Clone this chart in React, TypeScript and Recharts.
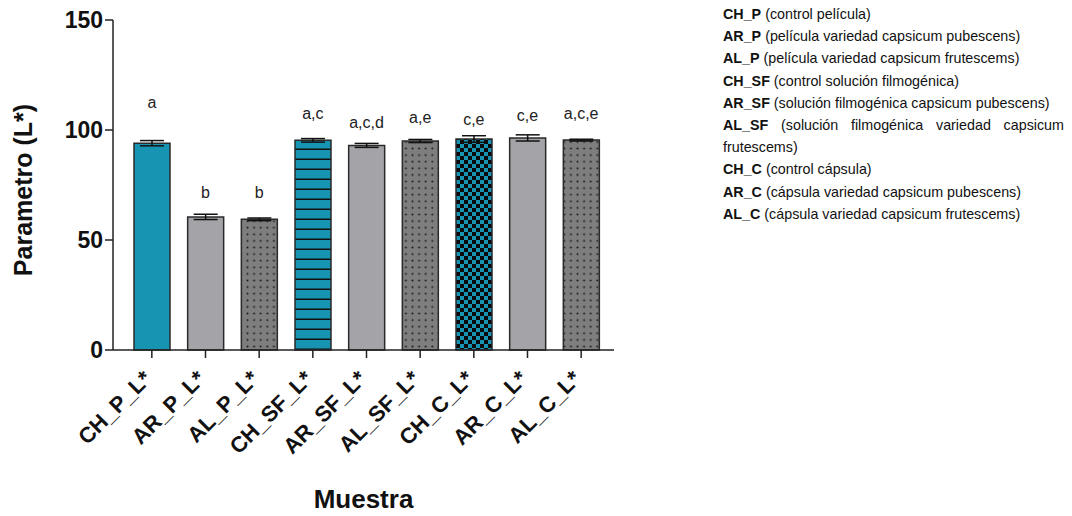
import React from "react";
import {
  ComposedChart,
  Bar,
  Line,
  XAxis,
  YAxis,
  ErrorBar,
  Cell,
} from "recharts";

const categories = [
  "CH_P_L*",
  "AR_P_L*",
  "AL_P_L*",
  "CH_SF_L*",
  "AR_SF_L*",
  "AL_SF_L*",
  "CH_C_L*",
  "AR_C_L*",
  "AL_C_L*",
];
const values = [94.0, 60.5, 59.4, 95.3, 93.0, 95.0, 95.9, 96.4, 95.4];
const errors = [1.2, 1.2, 0.6, 0.8, 0.9, 0.7, 1.5, 1.4, 0.4];
const letters = ["a", "b", "b", "a,c", "a,c,d", "a,e", "c,e", "c,e", "a,c,e"];
const letterPos = [112.5, 71.5, 71.5, 107.5, 103.5, 105.5, 105.0, 106.5, 107.5];
const fills = [
  "#1694b1",
  "#a4a3a8",
  "url(#dots)",
  "url(#stripes)",
  "#a4a3a8",
  "url(#dots)",
  "url(#checker)",
  "#a4a3a8",
  "url(#dots)",
];
const yTicks = [0, 50, 100, 150];

const legendItems: [string, string][] = [
  ["CH_P", "(control película)"],
  ["AR_P", "(película variedad capsicum pubescens)"],
  ["AL_P", "(película variedad capsicum frutescems)"],
  ["CH_SF", "(control solución filmogénica)"],
  ["AR_SF", "(solución filmogénica capsicum pubescens)"],
  ["AL_SF", "(solución filmogénica variedad capsicum frutescems)"],
  ["CH_C", "(control cápsula)"],
  ["AR_C", "(cápsula variedad capsicum pubescens)"],
  ["AL_C", "(cápsula variedad capsicum frutescems)"],
];

const data = categories.map((name, i) => ({
  name,
  value: values[i],
  err: errors[i],
  letterPos: letterPos[i],
}));

const FONT = "'Liberation Sans', Arial, Helvetica, sans-serif";

const XTick = (props: any) => {
  const { x, y, payload } = props;
  return (
    <g transform={`translate(${x + 1},${y + 20}) rotate(-45)`}>
      <text
        x={0}
        y={0}
        textAnchor="end"
        fontFamily={FONT}
        fontWeight="bold"
        fontSize={22}
        fill="#111"
      >
        {payload.value}
      </text>
    </g>
  );
};

const LetterLabel = (props: any) => {
  const { x, y, index } = props;
  return (
    <text
      x={x}
      y={y}
      textAnchor="middle"
      dominantBaseline="central"
      fontFamily={FONT}
      fontSize={16}
      fill="#222"
    >
      {letters[index]}
    </text>
  );
};

export default function App() {
  return (
    <div style={{ position: "absolute", left: 0, top: 0, width: 1072, height: 516, background: "#fff" }}>
      <ComposedChart
        width={1072}
        height={516}
        data={data}
        margin={{ top: 20, right: 458, bottom: 0, left: 53 }}
      >
        <defs>
          <pattern id="dots" patternUnits="userSpaceOnUse" width="6.6" height="6.6">
            <rect width="6.6" height="6.6" fill="#7e7e7e" />
            <circle cx="3.3" cy="3.3" r="1" fill="#1a1a1a" />
          </pattern>
          <pattern id="stripes" patternUnits="userSpaceOnUse" width="10" height="10">
            <rect width="10" height="10" fill="#1694b1" />
            <rect y="8.5" width="10" height="1.6" fill="#111" />
          </pattern>
          <pattern id="checker" patternUnits="userSpaceOnUse" width="8" height="8">
            <rect width="8" height="8" fill="#1694b1" />
            <rect width="4" height="4" fill="#0a0a0a" />
            <rect x="4" y="4" width="4" height="4" fill="#0a0a0a" />
          </pattern>
        </defs>
        <XAxis
          dataKey="name"
          height={166}
          padding={{ left: 12, right: 6 }}
          tick={<XTick />}
          tickSize={8}
          axisLine={{ stroke: "#222", strokeWidth: 1.5 }}
          tickLine={{ stroke: "#222", strokeWidth: 1.5 }}
          interval={0}
          label={{
            value: "Muestra",
            position: "insideBottom",
            offset: 8,
            fontFamily: FONT,
            fontWeight: "bold",
            fontSize: 26,
            fill: "#111",
          }}
        />
        <XAxis
          xAxisId="top"
          orientation="top"
          dataKey="name"
          height={0}
          tick={false}
          tickLine={false}
          axisLine={{ stroke: "#222", strokeWidth: 1.5 }}
        />
        <YAxis
          type="number"
          domain={[0, 150]}
          ticks={yTicks}
          width={60}
          tickSize={8}
          tickMargin={2}
          axisLine={{ stroke: "#222", strokeWidth: 1.5 }}
          tickLine={{ stroke: "#222", strokeWidth: 1.5 }}
          tick={{ fontFamily: FONT, fontWeight: "bold", fontSize: 23, fill: "#111" }}
          label={{
            value: "Parametro (L*)",
            angle: -90,
            position: "insideLeft",
            offset: -30,
            dx: 0,
            dy: 5,
            style: { textAnchor: "middle" },
            fontFamily: FONT,
            fontWeight: "bold",
            fontSize: 25,
            fill: "#111",
          }}
        />
        <YAxis
          yAxisId="right"
          orientation="right"
          type="number"
          domain={[0, 150]}
          width={0}
          tick={false}
          tickLine={false}
          axisLine={{ stroke: "#222", strokeWidth: 1.5 }}
        />
        <Bar
          dataKey="value"
          barSize={36}
          stroke="#2a2a2a"
          strokeWidth={1.5}
          isAnimationActive={false}
        >
          {data.map((d, i) => (
            <Cell key={d.name} fill={fills[i]} />
          ))}
          <ErrorBar dataKey="err" width={12} stroke="#111" strokeWidth={1.5} />
        </Bar>
        <Line
          dataKey="letterPos"
          stroke="none"
          dot={false}
          activeDot={false}
          isAnimationActive={false}
          label={<LetterLabel />}
        />
      </ComposedChart>
      <div
        style={{
          position: "absolute",
          left: 723,
          top: 3,
          width: 341,
          fontFamily: FONT,
          fontSize: 14.3,
          lineHeight: "22.2px",
          color: "#111",
          textAlign: "justify",
        }}
      >
        {legendItems.map(([k, t]) => (
          <div key={k}>
            <b>{k}</b> {t}
          </div>
        ))}
      </div>
    </div>
  );
}
